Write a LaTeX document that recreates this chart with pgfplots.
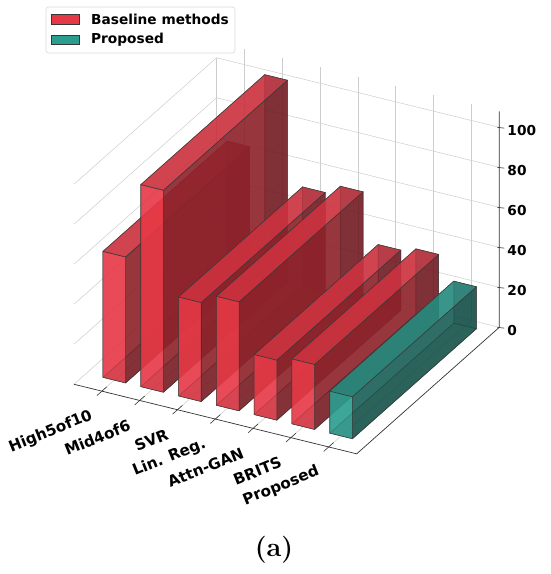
\documentclass[border=0pt]{standalone}
\usepackage{fontspec}
\usepackage{pgfplots}
\pgfplotsset{compat=1.18}
\newfontfamily\dvs{DejaVu Sans}
\definecolor{bred}{RGB}{230,57,70}
\definecolor{bgreen}{RGB}{42,157,143}
\definecolor{edgec}{RGB}{55,55,55}
\definecolor{gridc}{RGB}{205,205,205}

% one 3D bar: #1 left x, #2 right x, #3 height, #4 colour
\newcommand{\barbox}[4]{%
  % hidden faces first
  \addplot3[mark=none, draw=edgec, line width=0.5pt, draw opacity=0.75, fill=#4!62!black, fill opacity=0.7]
    coordinates {(#1,0,0) (#2,0,0) (#2,1,0) (#1,1,0) (#1,0,0)};
  \addplot3[mark=none, draw=edgec, line width=0.5pt, draw opacity=0.75, fill=#4!50!black, fill opacity=0.7]
    coordinates {(#1,1,0) (#2,1,0) (#2,1,#3) (#1,1,#3) (#1,1,0)};
  \addplot3[mark=none, draw=edgec, line width=0.5pt, draw opacity=0.75, fill=#4, fill opacity=0.7]
    coordinates {(#1,0,0) (#1,1,0) (#1,1,#3) (#1,0,#3) (#1,0,0)};
  % visible faces
  \addplot3[mark=none, draw=edgec, line width=0.55pt, draw opacity=0.85, fill=#4!50!black, fill opacity=0.7]
    coordinates {(#2,0,0) (#2,1,0) (#2,1,#3) (#2,0,#3) (#2,0,0)};
  \addplot3[mark=none, draw=edgec, line width=0.55pt, draw opacity=0.85, fill=#4, fill opacity=0.7]
    coordinates {(#1,0,0) (#2,0,0) (#2,0,#3) (#1,0,#3) (#1,0,0)};
  \addplot3[mark=none, draw=edgec, line width=0.55pt, draw opacity=0.85, fill=#4!85!black, fill opacity=0.7]
    coordinates {(#1,0,#3) (#2,0,#3) (#2,1,#3) (#1,1,#3) (#1,0,#3)};
}

\begin{document}
\begin{tikzpicture}
\path[use as bounding box] (0,0) rectangle (550pt,574pt);
\begin{axis}[
  at={(114.3pt,193.85pt)}, anchor=origin,
  x={(37.8pt,-9.3pt)}, y={(124pt,110pt)}, z={(0pt,2pt)},
  xmin=-0.74, xmax=6.74, ymin=-0.1, ymax=1.05, zmin=0, zmax=108,
  xtick={0,...,6}, ytick=\empty, ztick={0,20,...,100},
  xticklabel={\relax}, yticklabel={\relax}, zticklabel={\relax},
  major tick length=0pt,
  grid=major, grid style={gridc, line width=0.5pt},
  axis line style={draw=none},
  clip=false,
]
  \draw[gridc, line width=0.5pt] (axis cs:-0.74,1.05,0) -- (axis cs:-0.74,1.05,100);
  % bars (category index, heights)
  \barbox{-0.3}{0.3}{63}{bred}   % High5of10
  \barbox{0.7}{1.3}{101}{bred}   % Mid4of6
  \barbox{1.7}{2.3}{49.5}{bred}  % SVR
  \barbox{2.7}{3.3}{54.5}{bred}  % Lin. Reg.
  \barbox{3.7}{4.3}{30}{bred}    % Attn-GAN
  \barbox{4.7}{5.3}{32.5}{bred}  % BRITS
  \barbox{5.7}{6.3}{21}{bgreen}  % Proposed

  % axis lines
  \draw[black!80, line width=0.7pt] (axis cs:-0.74,-0.1,0) -- (axis cs:6.74,-0.1,0)
        -- (axis cs:6.74,1.05,0) -- (axis cs:6.74,1.05,108);
  % x ticks and labels
  \pgfplotsinvokeforeach{0,...,6}{
    \draw[black!80, line width=0.6pt] (axis cs:#1,-0.14,0) -- (axis cs:#1,-0.06,0);
  }
  \foreach \i/\lab in {0/High5of10, 1/Mid4of6, 2/SVR, 3/Lin. Reg., 4/Attn-GAN, 5/BRITS, 6/Proposed}{
    \edef\tmp{\noexpand\node[rotate=22, anchor=east, inner sep=0pt, font=\noexpand\dvs\noexpand\bfseries\noexpand\fontsize{15.2}{17}\noexpand\selectfont]
      at ([xshift=-10pt, yshift=-24pt]axis cs:\i,-0.1,0) {\lab};}
    \tmp
  }
  % z ticks and labels
  \foreach \k in {0,20,...,100}{
    \edef\tmp{\noexpand\draw[black!80, line width=0.6pt] ([xshift=-2pt]axis cs:6.74,1.05,\k) -- ++(7pt,-0.8pt);
      \noexpand\node[anchor=west, inner sep=0pt, font=\noexpand\dvs\noexpand\bfseries\noexpand\fontsize{13.7}{15}\noexpand\selectfont]
      at ([xshift=8pt, yshift=-3pt]axis cs:6.74,1.05,\k) {\k};}
    \tmp
  }
\end{axis}
% legend
\draw[rounded corners=2.5pt, draw=black!15, fill=white, line width=0.6pt] (46pt,567pt) rectangle (235pt,521pt);
\draw[fill=bred, draw=edgec, line width=0.6pt] (51pt,559.5pt) rectangle (79pt,550pt);
\draw[fill=bgreen, draw=edgec, line width=0.6pt] (51pt,539pt) rectangle (79pt,529.5pt);
\node[anchor=west, inner sep=0pt, font=\dvs\bfseries\fontsize{13.7}{15}\selectfont] at (91pt,555pt) {Baseline methods};
\node[anchor=west, inner sep=0pt, font=\dvs\bfseries\fontsize{13.7}{15}\selectfont] at (91pt,534pt) {Proposed};
% caption
\node[anchor=base, inner sep=0pt, font=\bfseries\fontsize{27}{30}\selectfont] at (274pt,17pt) {(a)};
\end{tikzpicture}
\end{document}
